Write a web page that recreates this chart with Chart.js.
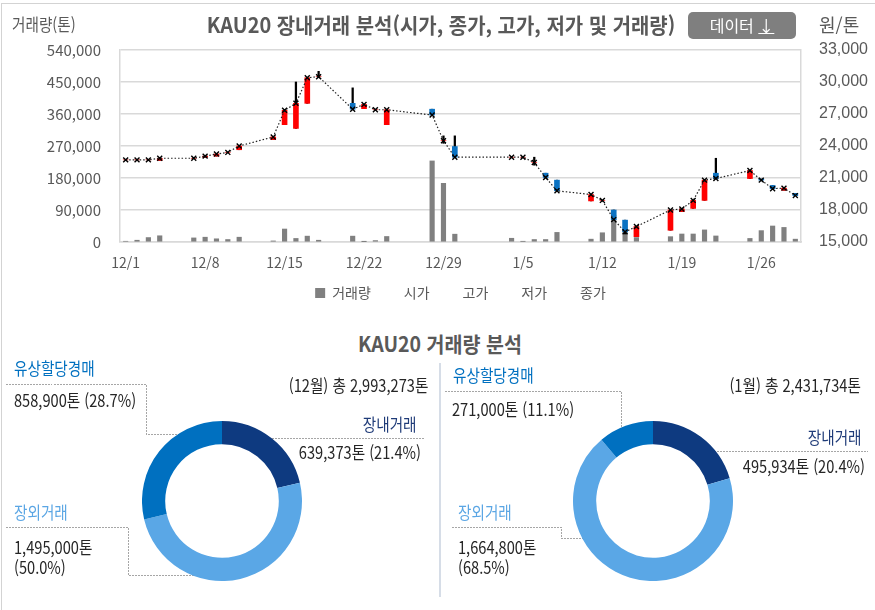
<!DOCTYPE html>
<html lang="ko">
<head>
<meta charset="utf-8">
<title>KAU20 장내거래 분석</title>
<script src="https://cdn.jsdelivr.net/npm/chart.js@4.4.1/dist/chart.umd.min.js"></script>
<style>
  html, body { margin: 0; padding: 0; background: #fff; }
  body { width: 875px; height: 610px; overflow: hidden; position: relative;
         font-family: "Noto Sans CJK KR", "Noto Sans", sans-serif; color: #262626; }
  .frame { position: absolute; left: 1px; top: 3px; width: 900px; height: 700px; border: 1px solid #d3d3d3; }
  .t { position: absolute; white-space: nowrap; line-height: 20px; font-size: 17px; }
  .sx { display: inline-block; transform: scaleX(.86); transform-origin: left center; }
  .r .sx { transform-origin: right center; }
  .head { color: #595959; }
  .btn { position: absolute; left: 688px; top: 12px; width: 108px; height: 27px; border-radius: 5px;
         background: #7f7f7f; color: #fff; font-size: 16px; line-height: 27px; text-align: center; }
  .btn u { text-decoration: underline; }
  canvas { position: absolute; }
  svg { position: absolute; left: 0; top: 0; }
</style>
</head>
<body>
<div class="frame"></div>

<canvas id="priceChart" width="875" height="312" style="left:0;top:0"></canvas>

<div class="t head" style="left:12px;top:14px"><span class="sx">거래량(톤)</span></div>
<div class="t head" style="left:441px;top:14px;font-size:21px;font-weight:700;transform:translateX(-50%) scaleX(.95)">KAU20 장내거래 분석(시가, 종가, 고가, 저가 및 거래량)</div>
<div class="btn">데이터 <u>↓</u></div>
<div class="t head" style="left:819px;top:14px;font-size:18px">원/톤</div>

<div class="t head" style="left:440px;top:333px;font-size:21px;font-weight:700;transform:translateX(-50%) scaleX(.93)">KAU20 거래량 분석</div>

<svg width="875" height="610">
  <g fill="none" stroke="#a6a6a6" stroke-width="1" stroke-dasharray="1.5 1.5" shape-rendering="crispEdges">
    <polyline points="6,384.5 146.5,384.5 146.5,434.5 200,434.5"/>
    <polyline points="266,438.5 425,438.5"/>
    <polyline points="6,527.5 128.5,527.5 128.5,575.5 200,575.5"/>
    <polyline points="445,391.5 621.5,391.5 621.5,433.5 643,433.5"/>
    <polyline points="711,451.5 868,451.5"/>
    <polyline points="452,527.5 561.5,527.5 561.5,538.5 597,538.5"/>
  </g>
  <line x1="440" y1="363" x2="440" y2="597" stroke="#d6dde7" stroke-width="2"/>
</svg>

<canvas id="decChart" width="160" height="160" style="left:142px;top:421px"></canvas>
<canvas id="janChart" width="160" height="160" style="left:573px;top:421px"></canvas>

<!-- 12월 -->
<div class="t" style="left:14px;top:358px;color:#0070c0"><span class="sx">유상할당경매</span></div>
<div class="t" style="left:14px;top:390px"><span class="sx">858,900톤 (28.7%)</span></div>
<div class="t r" style="right:447px;top:375px"><span class="sx">(12월) 총 2,993,273톤</span></div>
<div class="t r" style="right:458px;top:414px;color:#1f3b78"><span class="sx">장내거래</span></div>
<div class="t r" style="right:454px;top:442px"><span class="sx">639,373톤 (21.4%)</span></div>
<div class="t" style="left:14px;top:502px;color:#5ba6e4"><span class="sx">장외거래</span></div>
<div class="t" style="left:14px;top:537px"><span class="sx">1,495,000톤</span></div>
<div class="t" style="left:14px;top:557px"><span class="sx">(50.0%)</span></div>

<!-- 1월 -->
<div class="t" style="left:453px;top:365px;color:#0070c0"><span class="sx">유상할당경매</span></div>
<div class="t" style="left:452px;top:399px"><span class="sx">271,000톤 (11.1%)</span></div>
<div class="t r" style="right:14px;top:375px"><span class="sx">(1월) 총 2,431,734톤</span></div>
<div class="t r" style="right:13px;top:427px;color:#1f3b78"><span class="sx">장내거래</span></div>
<div class="t r" style="right:10px;top:456px"><span class="sx">495,934톤 (20.4%)</span></div>
<div class="t" style="left:458px;top:502px;color:#5ba6e4"><span class="sx">장외거래</span></div>
<div class="t" style="left:458px;top:537px"><span class="sx">1,664,800톤</span></div>
<div class="t" style="left:458px;top:557px"><span class="sx">(68.5%)</span></div>

<script>
// calendar axis 12/1 ~ 1/29
var dayLabels = [
    '12/1','12/2','12/3','12/4','12/5','12/6','12/7','12/8','12/9','12/10',
    '12/11','12/12','12/13','12/14','12/15','12/16','12/17','12/18','12/19','12/20',
    '12/21','12/22','12/23','12/24','12/25','12/26','12/27','12/28','12/29','12/30',
    '12/31','1/1','1/2','1/3','1/4','1/5','1/6','1/7','1/8','1/9',
    '1/10','1/11','1/12','1/13','1/14','1/15','1/16','1/17','1/18','1/19',
    '1/20','1/21','1/22','1/23','1/24','1/25','1/26','1/27','1/28','1/29'
];

// trading days
var tradeDays = [
    '12/1','12/2','12/3','12/4','12/7','12/8','12/9','12/10','12/11',
    '12/14','12/15','12/16','12/17','12/18','12/21','12/22','12/23','12/24',
    '12/28','12/29','12/30',
    '1/4','1/5','1/6','1/7','1/8','1/11','1/12','1/13','1/14','1/15',
    '1/18','1/19','1/20','1/21','1/22','1/25','1/26','1/27','1/28','1/29'
];
var openPrice = [
    22700,22700,22700,22650,22850,22950,23050,23400,23650,
    24600,26000,25650,28000,30500,28000,27500,27400,26000,
    27450,24500,23950,
    22950,22950,22450,21450,20800,18850,18900,18000,17050,15500,
    16100,17850,18150,18900,21450,20950,20900,20300,19850,19550
];
var highPrice = [
    22700,22700,22700,22850,22850,23050,23250,23400,24000,
    24850,27350,30000,30400,31000,29450,27900,27400,27400,
    27450,24950,24950,
    22950,22950,22950,21450,20800,19450,18900,18000,17050,16450,
    18000,18100,18900,20800,22850,21700,20900,20300,20050,19550
];
var lowPrice = [
    22700,22700,22700,22650,22850,22950,23050,23400,23650,
    24600,26000,25650,28000,30400,27450,27500,27400,26000,
    26900,24250,22950,
    22950,22950,22200,21050,19800,18850,18900,17100,15750,15500,
    16100,17850,18150,18900,20950,20950,20800,20000,19850,19350
];
var closePrice = [
    22700,22700,22700,22850,22850,23050,23250,23400,24000,
    24850,27350,28000,30400,30500,27450,27900,27400,27400,
    26900,24500,22950,
    22950,22950,22450,21050,19800,19450,18900,17100,15950,16450,
    18000,18100,18900,20800,20950,21700,20800,20000,20050,19350
];
var volume = [
    2000,5000,12500,17500,11500,13500,9000,7000,13500,
    3000,36500,10000,16500,5000,16500,500,4000,15500,
    228000,165000,22000,
    10500,1500,7000,7000,27000,8000,26000,75000,35000,12500,
    15000,22500,22500,34000,17000,10000,32000,45000,41000,8000
];
var legendNames = ['거래량', '시가', '고가', '저가', '종가'];

// donut data
var segLabels = ['장내거래', '장외거래', '유상할당경매'];
var decAmounts = [639373, 1495000, 858900];
var janAmounts = [495934, 1664800, 271000];

Chart.defaults.font.family = '"Noto Sans CJK KR", "Noto Sans", sans-serif';
Chart.defaults.color = '#595959';

var gridColor = '#d9d9d9';
var textColor = '#595959';

var bodyColors = tradeDays.map(function(d, i) {
    return closePrice[i] >= openPrice[i] ? '#ff0000' : '#0b72c2';
});

new Chart(document.getElementById('priceChart'), {
    type: 'bar',
    data: {
        labels: dayLabels,
        datasets: [
            {
                type: 'line',
                label: '종가',
                data: tradeDays.map(function(d, i) { return { x: d, y: closePrice[i] }; }),
                yAxisID: 'y1',
                borderColor: '#222',
                borderWidth: 1.2,
                borderDash: [1.5, 2],
                pointStyle: 'crossRot',
                pointRadius: 3.5,
                pointBorderColor: '#000',
                pointBorderWidth: 1.4,
                pointBackgroundColor: '#000',
                fill: false,
                tension: 0,
                order: 0,
            },
            {
                label: 'body',
                data: tradeDays.map(function(d, i) { return { x: d, y: [openPrice[i], closePrice[i]] }; }),
                yAxisID: 'y1',
                backgroundColor: bodyColors,
                barThickness: 5,
                grouped: false,
                order: 1,
            },
            {
                label: 'wick',
                data: tradeDays.map(function(d, i) { return { x: d, y: [lowPrice[i], highPrice[i]] }; }),
                yAxisID: 'y1',
                backgroundColor: '#000',
                barThickness: 1.6,
                grouped: false,
                order: 2,
            },
            {
                label: '거래량',
                data: tradeDays.map(function(d, i) { return { x: d, y: volume[i] }; }),
                yAxisID: 'y',
                backgroundColor: '#808080',
                barThickness: 4.5,
                grouped: false,
                order: 3,
            },
        ],
    },
    options: {
        responsive: false,
        animation: false,
        layout: { padding: { top: 50, left: 0, right: 0, bottom: 2 } },
        plugins: {
            tooltip: { enabled: false },
            legend: {
                position: 'bottom',
                fullSize: false,
                onClick: function() {},
                labels: {
                    boxWidth: 10,
                    boxHeight: 10,
                    padding: 16,
                    color: textColor,
                    font: { size: 14 },
                    generateLabels: function() {
                        return legendNames.map(function(name, i) {
                            return {
                                text: name,
                                fillStyle: i === 0 ? '#808080' : 'rgba(0,0,0,0)',
                                strokeStyle: 'rgba(0,0,0,0)',
                                lineWidth: 0,
                                hidden: false,
                                fontColor: textColor,
                            };
                        });
                    },
                },
            },
        },
        scales: {
            x: {
                type: 'category',
                offset: true,
                grid: { display: false, drawTicks: false },
                border: { display: true, color: gridColor, width: 1.5 },
                ticks: {
                    autoSkip: false,
                    maxRotation: 0,
                    padding: 12,
                    color: textColor,
                    font: { size: 14 },
                    callback: function(value, index) {
                        return index % 7 === 0 ? dayLabels[index] : '';
                    },
                },
                afterFit: function(scale) { scale.height = 28; },
            },
            y: {
                position: 'left',
                min: 0,
                max: 540000,
                grid: { color: gridColor, lineWidth: 1.5, drawTicks: false },
                border: { display: true, color: gridColor, width: 1.5 },
                ticks: {
                    stepSize: 90000,
                    padding: 19,
                    color: textColor,
                    font: { size: 15 },
                    callback: function(value) { return value.toLocaleString('en-US'); },
                },
                afterFit: function(scale) { scale.width = 120; },
            },
            y1: {
                position: 'right',
                min: 15000,
                max: 33000,
                grid: { display: false, drawTicks: false },
                border: { display: true, color: gridColor, width: 1.5 },
                ticks: {
                    stepSize: 3000,
                    padding: 18,
                    color: textColor,
                    font: { size: 16, family: '"Liberation Sans", Arial, sans-serif' },
                    callback: function(value) { return value.toLocaleString('en-US'); },
                },
                afterFit: function(scale) { scale.width = 74; },
            },
        },
    },
});

var segColors = ['#0e3a80', '#5aa7e6', '#0070c0'];

function renderDonut(id, amounts) {
    new Chart(document.getElementById(id), {
        type: 'doughnut',
        data: {
            labels: segLabels,
            datasets: [{
                data: amounts,
                backgroundColor: segColors,
                borderWidth: 0,
            }],
        },
        options: {
            responsive: false,
            animation: false,
            cutout: '71%',
            plugins: {
                legend: { display: false },
                tooltip: { enabled: false },
            },
        },
    });
}

renderDonut('decChart', decAmounts);
renderDonut('janChart', janAmounts);
</script>
</body>
</html>
